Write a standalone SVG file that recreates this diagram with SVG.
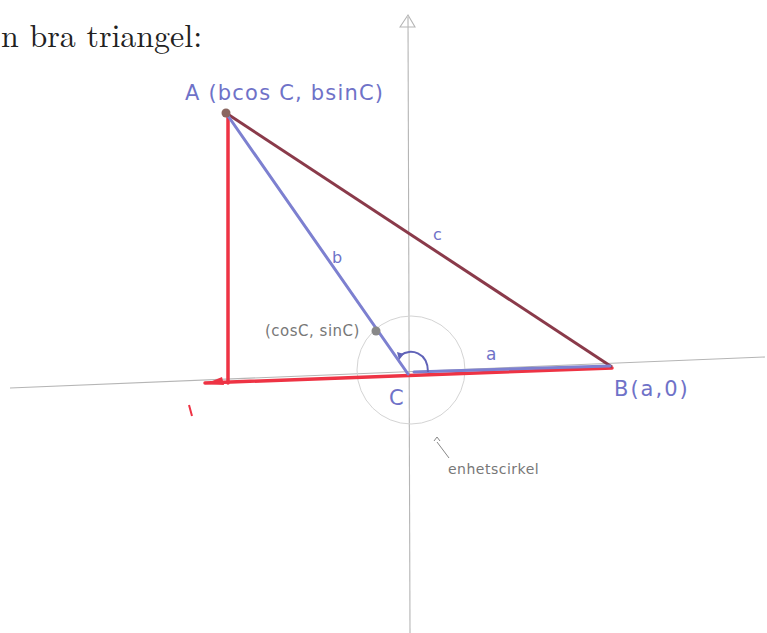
<svg xmlns="http://www.w3.org/2000/svg" width="767" height="633" viewBox="0 0 767 633">
<style>
.hand{font-family:"Comic Sans MS","DejaVu Sans",sans-serif;fill:#6f72c8}
.gray{font-family:"DejaVu Sans",sans-serif;fill:#777}
.axis{stroke:#b5b5b5;stroke-width:1.1;fill:none}
.red{stroke:#ee3344;stroke-width:3.5;fill:none;stroke-linecap:round}
.blue{stroke:#7d80d0;stroke-width:3;fill:none;stroke-linecap:round}
</style>
<rect width="767" height="633" fill="#fff"/>
<text x="1" y="47" font-family="'Latin Modern Roman','Liberation Serif',serif" font-size="32" fill="#222">n bra triangel:</text>
<g id="axes">
<line class="axis" x1="10" y1="388" x2="765" y2="357"/>
<line class="axis" x1="408" y1="17" x2="410" y2="633"/>
<path class="axis" d="M400 27 L408 15 L415 27 Z"/>
<circle cx="411" cy="370" r="54" fill="none" stroke="#d4d4d4" stroke-width="1"/>
</g>
<g id="connectors">
<line class="red" x1="205" y1="383" x2="612" y2="368"/>
<line class="red" x1="228" y1="114" x2="228" y2="383"/>
<path d="M205 384 L222 377 L224 385 Z" fill="#ee3344"/>
<path d="M189 405 L192 416" stroke="#ee3344" stroke-width="2"/>
<line x1="226" y1="113" x2="612" y2="367" stroke="#8a3a4a" stroke-width="3"/>
<line class="blue" x1="226" y1="113" x2="408" y2="374"/>
<line class="blue" x1="414" y1="372" x2="610" y2="366" stroke-width="2.5"/>
<path d="M428 372 C428 352 410 348 401 355" stroke="#6063b8" stroke-width="2" fill="none"/>
<path d="M397 352 L404 354 L399 360 Z" fill="#6063b8"/>
</g>
<g id="A"><circle cx="226" cy="113" r="4.5" fill="#8a6660"/>
<text class="hand" x="185" y="100" font-size="21" letter-spacing="1.2">A (bcos C, bsinC)</text></g>
<g id="P"><circle cx="376" cy="331" r="4.5" fill="#888"/>
<text class="gray" x="265" y="336" font-size="15" letter-spacing="0.5">(cosC, sinC)</text></g>
<g id="labels">
<text class="hand" x="332" y="263" font-size="16">b</text>
<text class="hand" x="433" y="240" font-size="16">c</text>
<text class="hand" x="486" y="360" font-size="17">a</text>
<text class="hand" x="389" y="405" font-size="21">C</text>
<text class="hand" x="614" y="396" font-size="21" letter-spacing="2">B(a,0)</text>
<text class="gray" x="448" y="474" font-size="14" letter-spacing="0.5">enhetscirkel</text>
<path d="M437 442 L449 458 M434 441 l3 -4 l3 4" stroke="#888" fill="none" stroke-width="1"/>
</g>
</svg>
